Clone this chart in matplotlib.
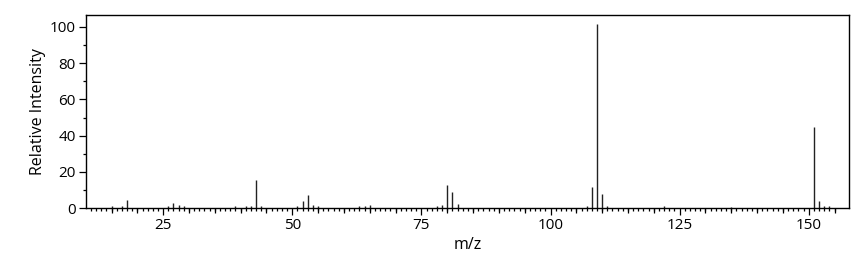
import matplotlib
matplotlib.use("Agg")
import matplotlib.pyplot as plt

plt.rcParams['font.family'] = ['Open Sans', 'DejaVu Sans']

mz = [15, 17, 18, 26, 27, 28, 29, 39, 41, 42, 43, 44, 51, 52, 53, 54, 55,
      63, 64, 65, 78, 79, 80, 81, 82, 107, 108, 109, 110, 111, 122, 135,
      151, 152, 153, 154]
intensity = [1.0, 1.5, 4.4, 1.0, 2.7, 1.8, 1.2, 1.5, 1.0, 1.5, 15.6, 1.0, 1.5, 4.2, 7.3, 2.0, 1.0,
             1.5, 1.0, 2.0, 1.0, 2.0, 12.8, 8.8, 2.5, 1.3, 11.6, 101.5, 7.9, 1.0, 1.0, 0.8,
             44.8, 4.2, 1.5, 1.0]
xticks = [25, 50, 75, 100, 125, 150]
yticks = [0, 20, 40, 60, 80, 100]

fig = plt.figure(figsize=(8.57, 2.6), dpi=100)
ax = fig.add_axes([0.1, 0.199, 0.8907, 0.742])

ax.vlines(mz, 0, intensity, colors='#222222', linewidth=1.0)

ax.set_xlim(10, 157.8)
ax.set_ylim(0, 106.3)
ax.set_xticks(xticks)
ax.set_xticks(list(range(11, 156)), minor=True)
ax.set_yticks(yticks)
ax.set_yticks([10, 30, 50, 70, 90], minor=True)

ax.tick_params(axis='both', which='major', direction='out', length=5, width=0.9,
               labelsize=11, colors='black', pad=2)
ax.tick_params(axis='both', which='minor', direction='out', length=2.5, width=0.9)

# medium ticks every 5 units
sec = ax.secondary_xaxis('bottom')
sec.set_xticks([m for m in range(15, 156, 5) if m % 25 != 0])
sec.set_xticklabels([])
sec.tick_params(direction='out', length=3.6, width=0.9)
sec.spines['bottom'].set_visible(False)

for s in ax.spines.values():
    s.set_linewidth(1.0)
    s.set_color('black')

ax.set_xlabel('m/z', fontsize=11.5, labelpad=3)
ax.set_ylabel('Relative Intensity', fontsize=11.5, labelpad=3)

fig.savefig('out.png', dpi=100)
